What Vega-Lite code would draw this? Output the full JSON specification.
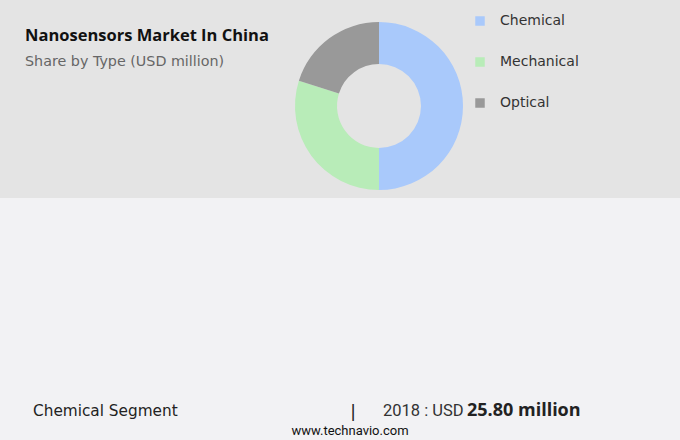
{
  "$schema": "https://vega.github.io/schema/vega-lite/v6.json",
  "width": 680,
  "height": 440,
  "autosize": "none",
  "padding": 0,
  "background": "#e4e4e4",
  "config": {"view": {"stroke": null}},
  "layer": [
    {
      "data": {"values": [{"panel": "lower"}]},
      "mark": {"type": "rect", "color": "#f2f2f4"},
      "encoding": {"x": {"value": 0}, "x2": {"value": 680}, "y": {"value": 198}, "y2": {"value": 440}}
    },
    {
      "data": {"values": [
        {"Type": "Chemical", "Value": 25.8},
        {"Type": "Mechanical", "Value": 15.4},
        {"Type": "Optical", "Value": 10.4}
      ]},
      "mark": {"type": "arc", "outerRadius": 84, "innerRadius": 42},
      "encoding": {
        "x": {"value": 379},
        "y": {"value": 106},
        "theta": {"field": "Value", "type": "quantitative", "stack": true},
        "color": {
          "field": "Type", "type": "nominal",
          "scale": {"domain": ["Chemical", "Mechanical", "Optical"], "range": ["#a9c9fb", "#b8ecb8", "#999999"]},
          "legend": {
            "title": null, "orient": "none", "legendX": 473, "legendY": 14,
            "symbolType": "square", "symbolSize": 90, "symbolStrokeWidth": 0,
            "labelFontSize": 14, "labelFont": "DejaVu Sans", "labelColor": "#333333",
            "labelOffset": 13, "rowPadding": 27,
            "encode": {"symbols": {"update": {"fill": [{"test": "datum.value === 'Mechanical'", "value": "#6ddc8c"}, {"scale": "color", "field": "value"}]}}}
          }
        }
      }
    },
    {
      "data": {"values": [{"t": "Nanosensors Market In China"}]},
      "mark": {"type": "text", "align": "left", "baseline": "alphabetic", "font": "Open Sans", "fontWeight": "bold", "fontSize": 16.5, "color": "#111111"},
      "encoding": {"x": {"value": 25}, "y": {"value": 41}, "text": {"field": "t"}}
    },
    {
      "data": {"values": [{"t": "Share by Type (USD million)"}]},
      "mark": {"type": "text", "align": "left", "baseline": "alphabetic", "font": "DejaVu Sans", "fontSize": 14.3, "color": "#666666"},
      "encoding": {"x": {"value": 25}, "y": {"value": 66}, "text": {"field": "t"}}
    },
    {
      "data": {"values": [{"t": "Chemical Segment"}]},
      "mark": {"type": "text", "align": "left", "baseline": "alphabetic", "font": "DejaVu Sans", "fontSize": 15.3, "color": "#222222"},
      "encoding": {"x": {"value": 33}, "y": {"value": 416}, "text": {"field": "t"}}
    },
    {
      "data": {"values": [{"t": "|"}]},
      "mark": {"type": "text", "align": "center", "baseline": "alphabetic", "font": "Liberation Sans", "fontSize": 18, "color": "#222222"},
      "encoding": {"x": {"value": 353}, "y": {"value": 417}, "text": {"field": "t"}}
    },
    {
      "data": {"values": [{"t": "2018 : USD"}]},
      "mark": {"type": "text", "align": "left", "baseline": "alphabetic", "font": "Roboto", "fontSize": 16.5, "color": "#333333"},
      "encoding": {"x": {"value": 383}, "y": {"value": 416}, "text": {"field": "t"}}
    },
    {
      "data": {"values": [{"t": "25.80 million"}]},
      "mark": {"type": "text", "align": "left", "baseline": "alphabetic", "font": "Open Sans", "fontWeight": "bold", "fontSize": 18, "color": "#222222"},
      "encoding": {"x": {"value": 467}, "y": {"value": 416}, "text": {"field": "t"}}
    },
    {
      "data": {"values": [{"t": "www.technavio.com"}]},
      "mark": {"type": "text", "align": "center", "baseline": "alphabetic", "font": "Roboto", "fontSize": 13, "color": "#111111"},
      "encoding": {"x": {"value": 350}, "y": {"value": 435}, "text": {"field": "t"}}
    }
  ]
}
